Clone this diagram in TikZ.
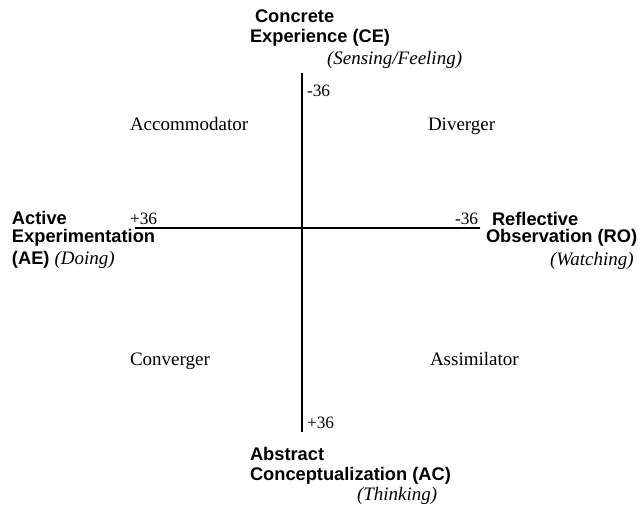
\documentclass[tikz,border=0pt]{standalone}
\usepackage{fontspec}
\setmainfont{Liberation Serif}
\newfontfamily\hdfont{Liberation Sans}
\begin{document}
\begin{tikzpicture}[x=0.75pt,y=-0.75pt,
  every node/.style={inner sep=0pt,outer sep=0pt,anchor=base west},
  head/.style={font=\hdfont\bfseries\fontsize{13.7}{15}\selectfont},
  style/.style={font=\itshape\fontsize{14.25}{16}\selectfont},
  quad/.style={font=\fontsize{14.25}{16}\selectfont},
  num/.style={font=\fontsize{13}{15}\selectfont},
  axis/.style={line width=1.4pt}]
\useasboundingbox (0,0) rectangle (638,509);
% axes
\coordinate (top) at (302,73);
\coordinate (bot) at (302,432);
\coordinate (lft) at (135,228);
\coordinate (rgt) at (480,228);
\draw[axis] (top) -- (bot);
\draw[axis] (lft) -- (rgt);
% top
\node[head] (ce1) at (255,23) {Concrete};
\node[head] (ce2) at (250,43) {Experience (CE)};
\node[style] (ce3) at (327,65) {(Sensing/Feeling)};
\node[num] (ntop) at (307,97) {-36};
% quadrants
\node[quad] (acc) at (130,131) {Accommodator};
\node[quad] (div) at (428,131) {Diverger};
\node[quad] (con) at (130,365) {Converger};
\node[quad] (ass) at (430,365) {Assimilator};
% left
\node[head] (ae1) at (12,225) {Active};
\node[head] (ae2) at (12,243) {Experimentation};
\node[head] (ae3) at (12,265) {(AE) {\normalfont\itshape\fontsize{14.25}{16}\selectfont(Doing)}};
\node[num] (nleft) at (130,225) {+36};
% right
\node[num] (nright) at (455,225) {-36};
\node[head] (ro1) at (492,226) {Reflective};
\node[head] (ro2) at (486,243) {Observation (RO)};
\node[style] (ro3) at (550,266) {(Watching)};
% bottom
\node[num] (nbot) at (307,428) {+36};
\node[head] (ac1) at (250,460) {Abstract};
\node[head] (ac2) at (250,480) {Conceptualization (AC)};
\node[style] (ac3) at (357,500) {(Thinking)};
\end{tikzpicture}
\end{document}
